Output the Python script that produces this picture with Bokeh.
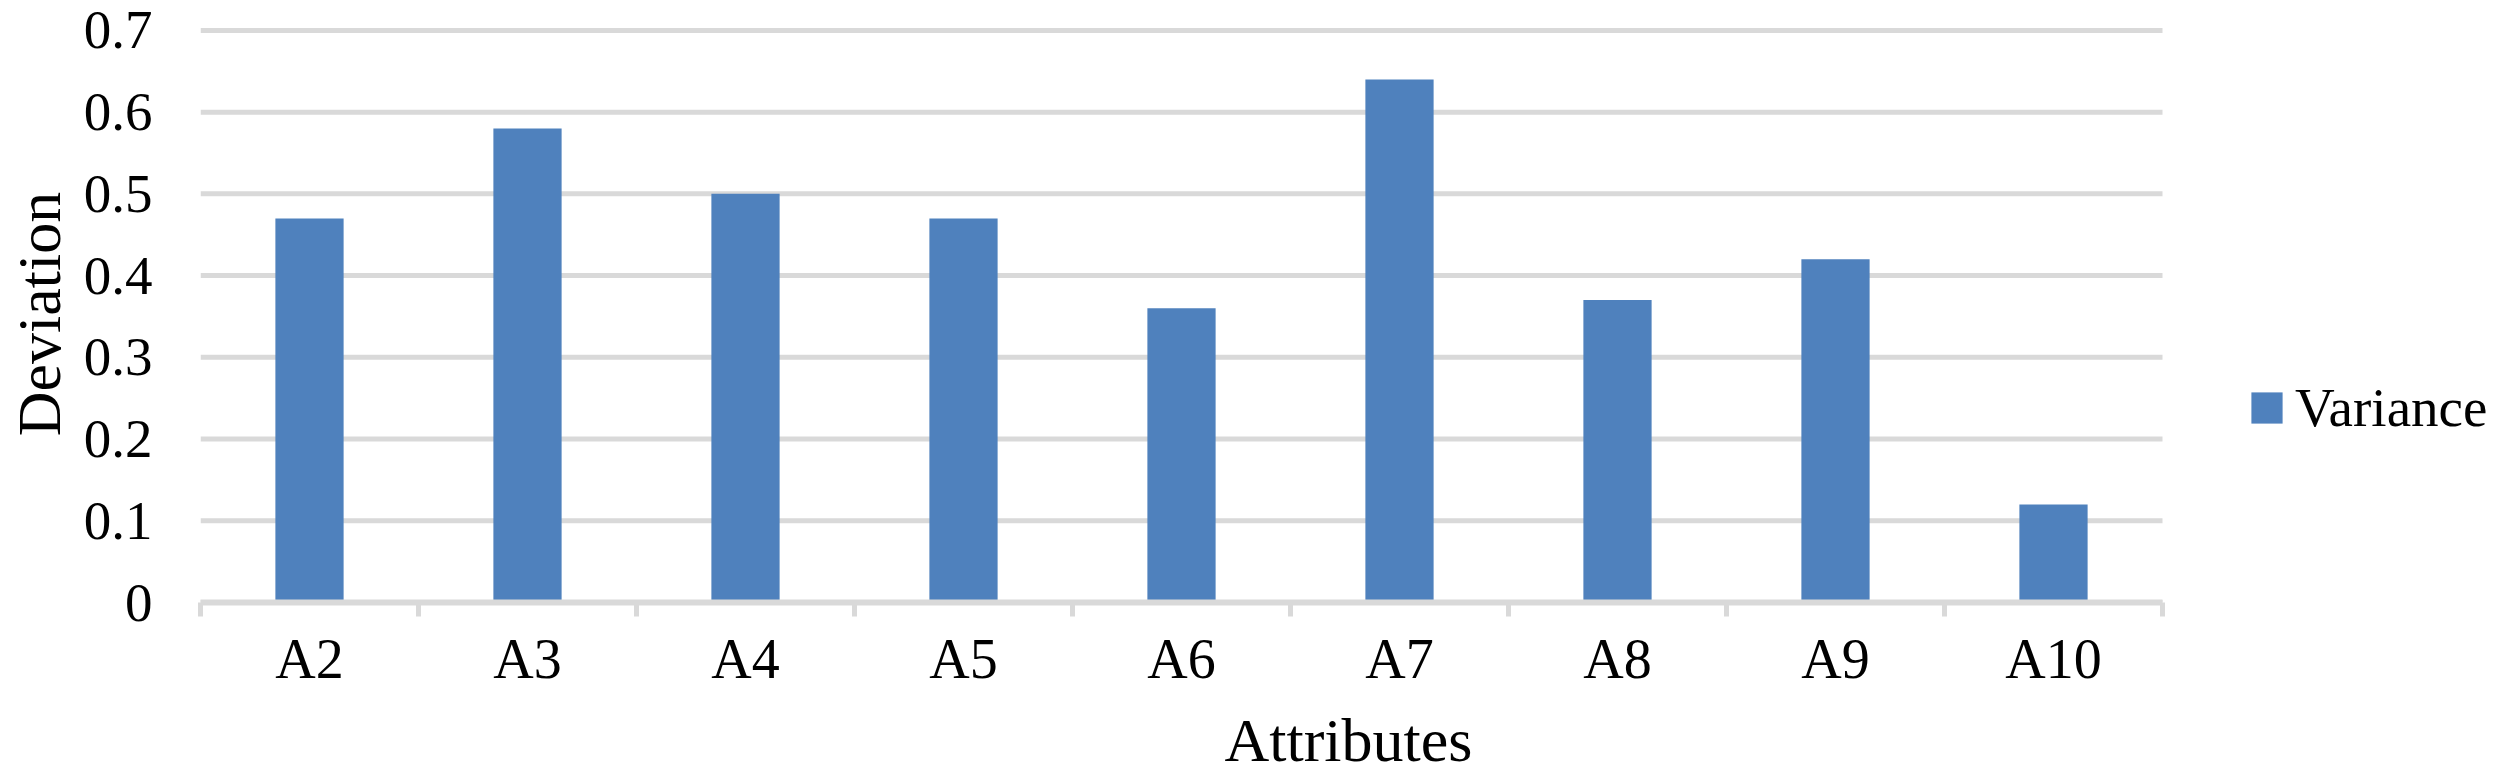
from bokeh.plotting import figure
from bokeh.models import Range1d, FixedTicker, Legend, LegendItem, ColumnDataSource
from bokeh.embed import file_html
from bokeh.resources import INLINE

categories = ["A2", "A3", "A4", "A5", "A6", "A7", "A8", "A9", "A10"]
variance = [0.47, 0.58, 0.50, 0.47, 0.36, 0.64, 0.37, 0.42, 0.12]
y_ticks = [0, 0.1, 0.2, 0.3, 0.4, 0.5, 0.6, 0.7]
y_tick_labels = ["0", "0.1", "0.2", "0.3", "0.4", "0.5", "0.6", "0.7"]
series_name = "Variance"
x_title = "Attributes"
y_title = "Deviation"

FONT = "Liberation Serif"
BAR = "#4F81BD"
GRID = "#D9D9D9"

W, H = 2496, 776
LEFT, TOP, BOTTOM = 200, 25, 173
n = len(categories)
cat_px = 218.0
frame_w = W - LEFT
x_end = frame_w / cat_px  # frame extends right to hold the legend

pos = [i + 0.5 for i in range(n)]
src = ColumnDataSource(dict(x=pos, top=variance, cat=categories))
grid_src = ColumnDataSource(dict(x0=[0] * len(y_ticks), x1=[n] * len(y_ticks), y=y_ticks))

p = figure(width=W, height=H, output_backend="svg", toolbar_location=None,
           x_range=Range1d(0, x_end), y_range=Range1d(0, 0.706),
           min_border_left=LEFT, min_border_right=0, min_border_top=TOP,
           min_border_bottom=BOTTOM)
p.outline_line_color = None
p.background_fill_color = "white"
p.xgrid.grid_line_color = None
p.ygrid.grid_line_color = None

p.segment(x0="x0", x1="x1", y0="y", y1="y", source=grid_src,
          line_color=GRID, line_width=5)
r = p.vbar(x="x", top="top", bottom=0, width=0.313, source=src,
           fill_color=BAR, line_color=None)

# x axis
xa = p.xaxis[0]
xa.bounds = (0, n)
xa.ticker = FixedTicker(ticks=pos, minor_ticks=list(range(n + 1)))
xa.major_label_overrides = {pv: c for pv, c in zip(pos, categories)}
xa.axis_line_color = GRID
xa.axis_line_width = 6
xa.major_tick_line_color = None
xa.major_tick_out = 0
xa.major_tick_in = 0
xa.minor_tick_line_color = GRID
xa.minor_tick_line_width = 5
xa.minor_tick_out = 14
xa.minor_tick_in = 0
xa.major_label_standoff = 11
xa.major_label_text_font = FONT
xa.major_label_text_font_size = "56px"
xa.major_label_text_color = "black"
xa.axis_label = x_title
xa.axis_label_text_font = FONT
xa.axis_label_text_font_size = "62px"
xa.axis_label_text_font_style = "normal"
xa.axis_label_text_color = "black"
xa.axis_label_standoff = 13

# y axis
ya = p.yaxis[0]
ya.ticker = FixedTicker(ticks=y_ticks)
ya.major_label_overrides = {t: l for t, l in zip(y_ticks, y_tick_labels)}
ya.axis_line_color = None
ya.major_tick_line_color = None
ya.minor_tick_line_color = None
ya.major_tick_out = 0
ya.major_tick_in = 0
ya.major_label_standoff = 48
ya.major_label_text_font = FONT
ya.major_label_text_font_size = "55px"
ya.major_label_text_color = "black"
ya.axis_label = y_title
ya.axis_label_text_font = FONT
ya.axis_label_text_font_size = "62px"
ya.axis_label_text_font_style = "normal"
ya.axis_label_text_color = "black"
ya.axis_label_standoff = 8

legend = Legend(items=[LegendItem(label=series_name, renderers=[r])],
                location=(2047, 163), orientation="vertical",
                glyph_width=39, glyph_height=39, label_standoff=9,
                label_text_font=FONT, label_text_font_size="55px",
                label_text_color="black", padding=0, margin=0, spacing=0,
                border_line_color=None, background_fill_alpha=0)
p.add_layout(legend, "center")

open("out.html", "w").write(file_html(p, INLINE))
